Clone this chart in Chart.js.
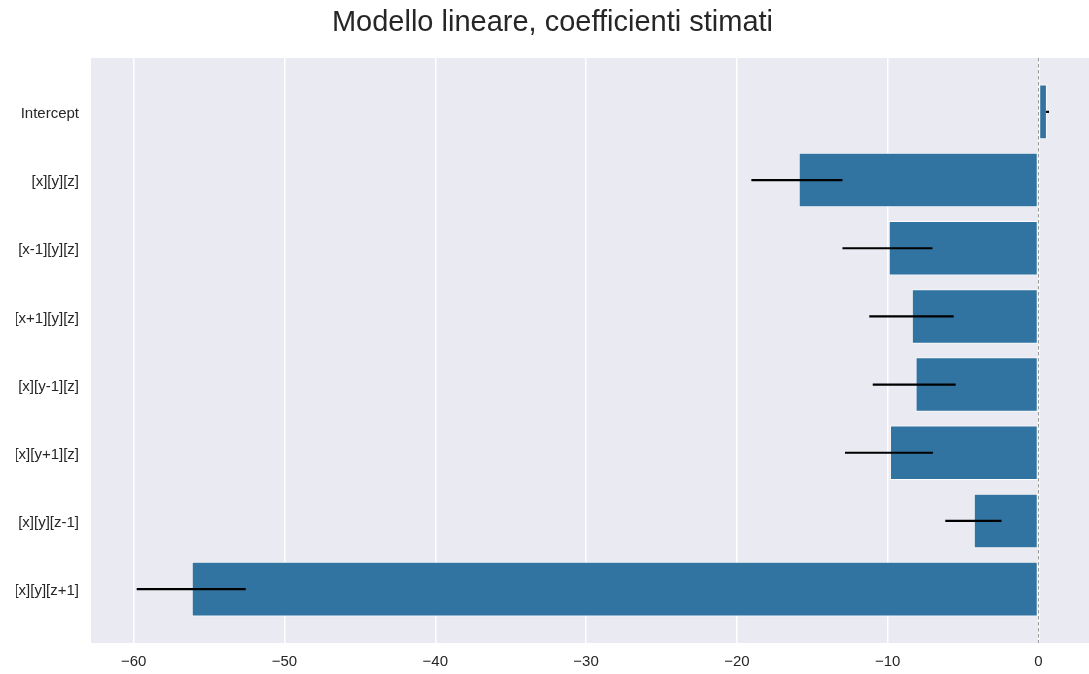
<!DOCTYPE html>
<html>
<head>
<meta charset="utf-8">
<script src="https://cdn.jsdelivr.net/npm/chart.js@4.4.1/dist/chart.umd.min.js"></script>
<style>
  html, body { margin: 0; padding: 0; background: #ffffff; }
  #wrap { width: 1089px; height: 674px; position: relative; }
</style>
</head>
<body>
<div id="wrap"><canvas id="c" width="1089" height="674"></canvas></div>
<script>
const titleText = 'Modello lineare, coefficienti stimati';
const categories = ['Intercept', '[x][y][z]', '[x-1][y][z]', '[x+1][y][z]', '[x][y-1][z]', '[x][y+1][z]', '[x][y][z-1]', '[x][y][z+1]'];
const coefficients = [0.56, -15.9, -9.93, -8.4, -8.15, -9.85, -4.29, -56.15];
const ciLower = [0.50, -19.04, -13.0, -11.22, -10.99, -12.83, -6.18, -59.8];
const ciUpper = [0.70, -13.0, -7.03, -5.62, -5.49, -7.0, -2.45, -52.57];
const xTickValues = [-60, -50, -40, -30, -20, -10, 0];

const FONT = "'Liberation Sans', Arial, Helvetica, sans-serif";
const TEXT = '#262626';

const bgPlugin = {
  id: 'bgPlugin',
  beforeDraw(chart) {
    const { ctx, chartArea: a } = chart;
    ctx.save();
    ctx.fillStyle = '#ffffff';
    ctx.fillRect(0, 0, chart.width, chart.height);
    ctx.fillStyle = '#EAEAF2';
    ctx.fillRect(a.left, a.top, a.right - a.left, a.bottom - a.top);
    ctx.restore();
  }
};

const overlayPlugin = {
  id: 'overlayPlugin',
  afterDatasetsDraw(chart) {
    const { ctx, chartArea: a } = chart;
    const xs = chart.scales.x, ys = chart.scales.y;
    ctx.save();
    const x0 = Math.round(xs.getPixelForValue(0)) + 0.5;
    ctx.strokeStyle = '#9a9a9a';
    ctx.lineWidth = 1;
    ctx.setLineDash([3.5, 2.5]);
    ctx.beginPath();
    ctx.moveTo(x0, a.top);
    ctx.lineTo(x0, a.bottom);
    ctx.stroke();
    ctx.setLineDash([]);
    ctx.strokeStyle = '#000000';
    ctx.lineWidth = 2.2;
    ctx.lineCap = 'butt';
    for (let i = 0; i < categories.length; i++) {
      const y = ys.getPixelForValue(i);
      ctx.beginPath();
      ctx.moveTo(xs.getPixelForValue(ciLower[i]), y);
      ctx.lineTo(xs.getPixelForValue(ciUpper[i]), y);
      ctx.stroke();
    }
    ctx.restore();
  }
};

const fmt = v => (v < 0 ? '\u2212' + Math.abs(v) : String(v));

new Chart(document.getElementById('c'), {
  type: 'bar',
  data: {
    datasets: [{
      data: coefficients.map((v, i) => ({ x: v, y: i })),
      backgroundColor: '#3274A1',
      borderColor: 'rgba(255,255,255,0.85)',
      borderWidth: 1,
      borderSkipped: false,
      categoryPercentage: 1.0,
      barPercentage: 0.8
    }]
  },
  options: {
    indexAxis: 'y',
    responsive: false,
    animation: false,
    layout: { padding: { left: 16, right: 0, top: 0, bottom: 0 } },
    plugins: {
      legend: { display: false },
      tooltip: { enabled: false },
      title: {
        display: true,
        text: titleText,
        color: TEXT,
        font: { family: FONT, size: 29, weight: 'normal' },
        padding: { top: 6, bottom: 17.2 }
      }
    },
    scales: {
      x: {
        type: 'linear',
        min: -62.83,
        max: 3.35,
        afterBuildTicks: s => { s.ticks = xTickValues.map(v => ({ value: v })); },
        afterFit: s => { s.height = 31; },
        border: { display: false },
        grid: { color: '#ffffff', lineWidth: 1.5, drawTicks: false },
        ticks: {
          color: TEXT,
          padding: 10,
          font: { family: FONT, size: 15 },
          callback: v => fmt(v)
        }
      },
      y: {
        type: 'linear',
        reverse: true,
        offset: false,
        min: -0.79,
        max: 7.79,
        afterBuildTicks: s => { s.ticks = categories.map((c, i) => ({ value: i })); },
        afterFit: s => { s.width = 75; },
        border: { display: false },
        grid: { display: false, drawTicks: false, offset: false },
        ticks: {
          color: TEXT,
          padding: 12,
          labelOffset: 2,
          font: { family: FONT, size: 15 },
          callback: v => categories[v]
        }
      }
    }
  },
  plugins: [bgPlugin, overlayPlugin]
});
</script>
</body>
</html>
